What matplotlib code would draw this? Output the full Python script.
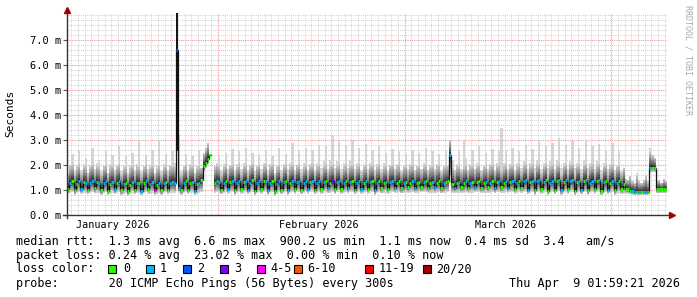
import numpy as np
import matplotlib
matplotlib.use('Agg')
import matplotlib.pyplot as plt
from matplotlib.patches import Rectangle
from matplotlib.transforms import blended_transform_factory

nan = np.nan

# 3 samples per day, 90 days, Jan 9 -> Apr 9 2026 (values in ms)
median_ms = [
    1.05, 1.30, 1.36, 1.00, 1.26, 1.38, 1.05, 1.32, 1.30, 1.02, 1.28, 1.36, 1.08, 1.33, 1.28,
    1.00, 1.30, 1.35, 0.98, 1.26, 1.32, 1.04, 1.30, 1.38, 1.00, 1.25, 1.30, 0.95, 1.22, 1.32,
    1.02, 1.30, 1.28, 0.98, 1.28, 1.35, 1.05, 1.25, 1.32, 1.00, 1.22, 1.30, 1.00, 1.28, 1.34,
    1.02, 1.30, 1.32, 1.28, 6.60, 1.10, 1.00, 1.28, 1.35, 1.02, 1.30, 1.33, 0.98, 1.25, 1.30,
    1.40, 1.95, 2.10, 2.25, 2.42, nan, 1.28, 1.36, 1.32, 1.02, 1.30, 1.38, 1.05, 1.32, 1.36,
    1.00, 1.28, 1.38, 1.06, 1.33, 1.35, 1.02, 1.30, 1.40, 0.98, 1.28, 1.36, 1.05, 1.35, 1.38,
    1.00, 1.30, 1.36, 0.95, 1.26, 1.35, 1.02, 1.32, 1.38, 1.00, 1.30, 1.36, 1.05, 1.34, 1.38,
    1.02, 1.30, 1.36, 1.06, 1.33, 1.38, 1.02, 1.30, 1.35, 1.05, 1.32, 1.38, 1.08, 1.30, 1.36,
    1.04, 1.33, 1.38, 1.05, 1.30, 1.35, 1.08, 1.33, 1.36, 1.02, 1.30, 1.38, 1.06, 1.28, 1.35,
    1.05, 1.32, 1.36, 1.00, 1.28, 1.35, 1.08, 1.30, 1.33, 1.05, 1.32, 1.36, 1.10, 1.30, 1.35,
    1.08, 1.28, 1.33, 1.12, 1.30, 1.35, 1.10, 1.28, 1.32, 1.14, 1.32, 1.35, 1.10, 1.28, 1.33,
    1.12, 1.30, 1.35, 1.08, 1.28, 1.32, 1.35, 2.40, 1.25, 1.10, 1.30, 1.33, 1.12, 1.28, 1.35,
    1.10, 1.30, 1.32, 1.14, 1.32, 1.35, 1.10, 1.28, 1.33, 1.12, 1.30, 1.36, 1.08, 1.32, 1.35,
    1.12, 1.30, 1.38, 1.10, 1.33, 1.36, 1.05, 1.30, 1.38, 1.10, 1.35, 1.40, 1.02, 1.32, 1.38,
    1.00, 1.35, 1.40, 1.05, 1.33, 1.40, 0.98, 1.30, 1.38, 1.02, 1.35, 1.42, 1.00, 1.32, 1.40,
    1.04, 1.36, 1.40, 0.98, 1.33, 1.38, 1.02, 1.35, 1.40, 1.00, 1.30, 1.38, 1.05, 1.35, 1.40,
    0.98, 1.32, 1.36, 1.02, 1.30, 1.38, 1.00, 1.28, 1.35, 1.04, 1.25, 1.05, 1.05, 0.98, 0.95,
    0.93, 0.93, 0.92, 0.92, 0.93, 0.92, 0.92, 1.88, 1.90, 1.88, 1.05, 1.05, 1.04, 1.05, 1.05,
]

# max ping per sample
smoke_hi = [
    1.70, 2.00, 2.45, 1.75, 1.95, 2.60, 1.80, 2.05, 2.30, 1.70, 2.00, 2.70, 1.85, 2.10, 2.20,
    1.75, 1.95, 2.55, 1.70, 2.05, 2.40, 1.80, 2.00, 2.75, 1.75, 1.95, 2.35, 1.70, 2.00, 2.50,
    1.80, 2.05, 2.95, 1.75, 1.95, 2.40, 1.85, 2.00, 2.60, 1.70, 1.95, 3.00, 1.75, 2.05, 2.45,
    1.80, 2.00, 2.55, 2.10, 8.20, 3.20, 1.75, 2.00, 2.45, 1.80, 2.05, 2.35, 1.70, 1.95, 2.60,
    1.90, 2.50, 2.70, 2.90, 3.10, nan, 1.95, 2.10, 2.40, 1.80, 2.05, 2.50, 1.85, 2.00, 2.65,
    1.75, 2.05, 2.55, 1.85, 2.10, 2.70, 1.80, 2.00, 2.50, 1.75, 1.95, 2.40, 1.85, 2.10, 2.60,
    1.80, 2.05, 2.35, 1.70, 2.00, 2.70, 1.80, 2.05, 2.45, 1.85, 2.10, 2.90, 1.80, 2.00, 2.55,
    1.85, 2.10, 2.70, 1.80, 2.05, 2.60, 1.75, 2.10, 2.80, 1.90, 2.15, 2.75, 1.85, 2.20, 3.20,
    1.90, 2.15, 2.95, 1.85, 2.10, 2.80, 1.90, 2.20, 3.00, 1.85, 2.10, 2.70, 1.80, 2.05, 2.85,
    1.85, 2.10, 2.60, 1.80, 2.05, 2.75, 1.85, 2.10, 2.50, 1.80, 2.00, 2.65, 1.85, 2.05, 2.55,
    1.80, 2.00, 2.45, 1.85, 2.05, 2.60, 1.80, 2.00, 2.50, 1.85, 2.10, 2.70, 1.80, 2.00, 2.55,
    1.85, 2.05, 2.45, 1.80, 2.00, 2.60, 1.95, 3.00, 2.20, 1.80, 2.05, 2.55, 1.85, 3.00, 2.30,
    1.80, 2.05, 2.60, 1.85, 2.10, 2.75, 1.80, 2.00, 2.50, 1.85, 2.05, 2.65, 1.80, 2.10, 2.55,
    3.50, 2.10, 2.60, 1.85, 2.05, 2.70, 1.80, 2.10, 2.55, 1.90, 2.15, 2.80, 1.85, 2.10, 2.65,
    1.90, 2.20, 3.00, 1.85, 2.10, 2.75, 1.90, 2.15, 2.90, 1.85, 2.20, 3.10, 1.90, 2.10, 2.80,
    1.85, 2.15, 2.95, 1.90, 2.10, 2.70, 1.85, 2.20, 3.00, 1.90, 2.10, 2.75, 1.85, 2.15, 2.85,
    1.80, 2.10, 2.60, 1.85, 2.05, 2.90, 1.80, 2.00, 2.55, 1.75, 1.90, 1.45, 1.40, 1.55, 1.35,
    1.30, 1.70, 1.35, 1.30, 1.40, 1.60, 1.35, 2.70, 2.40, 2.30, 1.35, 1.40, 1.30, 1.45, 1.35,
]

# min ping per sample
smoke_lo = [
    0.85, 0.90, 0.92, 0.82, 0.88, 0.92, 0.86, 0.90, 0.90, 0.84, 0.88, 0.92, 0.88, 0.90, 0.88,
    0.82, 0.88, 0.92, 0.80, 0.86, 0.90, 0.85, 0.90, 0.92, 0.82, 0.86, 0.90, 0.78, 0.84, 0.90,
    0.84, 0.90, 0.88, 0.80, 0.88, 0.92, 0.86, 0.86, 0.90, 0.82, 0.84, 0.90, 0.82, 0.88, 0.92,
    0.84, 0.90, 0.90, 0.88, 2.55, 0.90, 0.82, 0.88, 0.92, 0.84, 0.90, 0.90, 0.80, 0.86, 0.90,
    0.92, 1.75, 1.90, 2.05, 2.20, nan, 0.88, 0.92, 0.90, 0.84, 0.90, 0.92, 0.86, 0.90, 0.92,
    0.82, 0.88, 0.92, 0.86, 0.90, 0.92, 0.84, 0.90, 0.94, 0.80, 0.88, 0.92, 0.86, 0.92, 0.94,
    0.82, 0.90, 0.92, 0.78, 0.86, 0.92, 0.84, 0.90, 0.94, 0.82, 0.90, 0.92, 0.86, 0.92, 0.94,
    0.84, 0.90, 0.92, 0.86, 0.92, 0.94, 0.84, 0.90, 0.92, 0.86, 0.90, 0.94, 0.88, 0.90, 0.92,
    0.86, 0.92, 0.94, 0.86, 0.90, 0.92, 0.88, 0.92, 0.92, 0.84, 0.90, 0.94, 0.86, 0.88, 0.92,
    0.86, 0.90, 0.92, 0.82, 0.88, 0.92, 0.88, 0.90, 0.90, 0.86, 0.90, 0.92, 0.90, 0.90, 0.92,
    0.88, 0.88, 0.90, 0.90, 0.90, 0.92, 0.90, 0.88, 0.90, 0.92, 0.92, 0.92, 0.90, 0.88, 0.90,
    0.90, 0.90, 0.92, 0.88, 0.88, 0.90, 0.92, 1.55, 0.90, 0.90, 0.90, 0.90, 0.90, 0.88, 0.92,
    0.90, 0.90, 0.90, 0.92, 0.92, 0.92, 0.90, 0.88, 0.90, 0.90, 0.90, 0.92, 0.88, 0.92, 0.92,
    0.90, 0.90, 0.94, 0.90, 0.92, 0.92, 0.86, 0.90, 0.94, 0.90, 0.92, 0.94, 0.84, 0.90, 0.92,
    0.82, 0.92, 0.94, 0.86, 0.90, 0.94, 0.80, 0.88, 0.92, 0.84, 0.92, 0.96, 0.82, 0.90, 0.94,
    0.86, 0.92, 0.94, 0.80, 0.90, 0.92, 0.84, 0.92, 0.94, 0.82, 0.88, 0.92, 0.86, 0.92, 0.94,
    0.80, 0.90, 0.92, 0.84, 0.88, 0.92, 0.82, 0.86, 0.90, 0.86, 0.86, 0.86, 0.86, 0.84, 0.82,
    0.80, 0.82, 0.80, 0.80, 0.82, 0.80, 0.80, 1.70, 1.72, 1.72, 0.88, 0.88, 0.88, 0.88, 0.88,
]

# lost pings per sample (4 = "4-5" bucket)
loss = [
    0, 1, 0, 0, 0, 1, 1, 0, 1, 0, 1, 1, 0, 0, 1,
    0, 1, 1, 0, 0, 1, 1, 0, 1, 0, 1, 0, 0, 0, 1,
    0, 1, 0, 1, 0, 1, 0, 1, 1, 4, 0, 1, 0, 1, 0,
    0, 1, 1, 1, 2, 1, 0, 1, 0, 0, 0, 1, 1, 0, 1,
    0, 0, 0, 0, 0, 0, 0, 1, 1, 0, 1, 0, 1, 0, 1,
    0, 1, 1, 0, 0, 1, 1, 1, 0, 0, 1, 1, 0, 0, 1,
    1, 1, 0, 0, 1, 1, 0, 1, 0, 1, 0, 1, 0, 1, 1,
    0, 1, 1, 1, 0, 1, 0, 1, 1, 0, 1, 0, 1, 0, 3,
    0, 1, 1, 0, 1, 0, 1, 1, 0, 0, 1, 1, 1, 0, 1,
    0, 1, 0, 1, 1, 0, 0, 0, 1, 0, 1, 1, 1, 0, 0,
    0, 1, 0, 0, 0, 1, 1, 0, 0, 0, 1, 0, 0, 0, 1,
    1, 0, 0, 0, 1, 0, 0, 1, 0, 1, 0, 1, 0, 0, 1,
    0, 1, 0, 1, 0, 0, 0, 0, 1, 0, 1, 0, 1, 0, 1,
    0, 0, 1, 1, 0, 1, 0, 1, 0, 0, 1, 1, 1, 0, 1,
    0, 1, 1, 0, 1, 0, 0, 1, 1, 0, 0, 1, 1, 0, 1,
    0, 1, 1, 0, 0, 1, 1, 0, 1, 0, 1, 1, 0, 0, 1,
    0, 1, 0, 1, 0, 1, 0, 1, 0, 0, 0, 0, 0, 0, 1,
    1, 0, 1, 0, 1, 1, 0, 1, 0, 0, 0, 0, 0, 0, 0,
]

month_days = [22.65, 50.65, 81.65]          # Feb 1, Mar 1, Apr 1
month_labels = ['January 2026', 'February 2026', 'March 2026']
month_label_pos = [6.8, 37.8, 65.85]

loss_colors = {0: '#26ff00', 1: '#00b8ff', 2: '#0059ff', 3: '#7e00ff', 4: '#ff00ff'}
legend_names = ['0', '1', '2', '3', '4-5', '6-10', '11-19', '20/20']
legend_colors = ['#26ff00', '#00b8ff', '#0059ff', '#7e00ff', '#ff00ff',
                 '#ff5500', '#ff0000', '#a10000']

MONO = 'DejaVu Sans Mono'
W, H = 697, 297

med = np.array(median_ms)
hi = np.array(smoke_hi)
lo = np.array(smoke_lo)
ls = np.array(loss)
n = len(med)
edges = np.arange(n + 1) / 3.0


def ext(a):
    return np.append(a, a[-1])


fig = plt.figure(figsize=(W / 100, H / 100), dpi=100)
ax = fig.add_axes([67 / W, 1 - 215 / H, 600 / W, 202 / H])
ax.set_xlim(0, 90)
ax.set_ylim(0, 8.08)
for s in ax.spines.values():
    s.set_visible(False)

# grid
ax.set_yticks(np.arange(0, 8, 1))
ax.set_yticklabels(['%.1f m' % v for v in np.arange(0, 8, 1)])
ax.set_yticks(np.arange(0, 8.05, 0.2), minor=True)
ax.set_xticks(month_days)
ax.set_xticklabels([])
ax.set_xticks(np.arange(0.65, 90, 1.0), minor=True)
ax.grid(which='minor', color='#d2d2d2', ls=(0, (1, 1)), lw=0.7)
ax.grid(which='major', color='#f29a9a', ls=(0, (1, 1)), lw=0.8)
ax.tick_params(axis='y', which='major', length=3, width=0.8, color='#555555',
               labelsize=7.5, pad=1.5)
ax.tick_params(axis='y', which='minor', length=0)
ax.tick_params(axis='x', which='both', length=0)
for t in ax.get_yticklabels():
    t.set_family(MONO)

# smoke
up_frac = [1.0, 0.85, 0.72, 0.6, 0.49, 0.38, 0.28, 0.18, 0.09]
lo_frac = [1.0, 0.9, 0.78, 0.66, 0.55, 0.44, 0.33, 0.23, 0.14, 0.06]
grays = np.linspace(0.83, 0.17, 10)
spread = np.minimum(hi - med, 0.65)
for k in range(10):
    top = hi if k == 0 else med + spread * up_frac[k - 1]
    bot = med - (med - lo) * lo_frac[k]
    ax.fill_between(edges, ext(bot), ext(top), step='post',
                    color=str(grays[k]), lw=0, zorder=2)
heavy = ls == 2
ax.bar(edges[:-1][heavy], (hi - lo)[heavy], bottom=lo[heavy], width=1 / 3,
       align='edge', color='#151515', lw=0, zorder=2)

# median
ax.step(edges, ext(med), where='post', color='#111111', lw=0.9, zorder=3)
ax.hlines(med, edges[:-1], edges[1:], colors=[loss_colors[v] for v in ls],
          lw=2.1, zorder=4)

# axes with arrows
ax.plot([0, 0], [-0.015, 1.0], transform=ax.transAxes, color='#333333',
        lw=1, clip_on=False, zorder=5)
ax.plot([-0.006, 1.005], [0, 0], transform=ax.transAxes, color='#333333',
        lw=1, clip_on=False, zorder=5)
ax.plot(0, 1.013, marker='^', ms=4, color='#a00000', transform=ax.transAxes,
        clip_on=False, zorder=6)
ax.plot(1.008, 0, marker='>', ms=4, color='#a00000', transform=ax.transAxes,
        clip_on=False, zorder=6)

tr = blended_transform_factory(ax.transData, ax.transAxes)
for pos, lab in zip(month_label_pos, month_labels):
    ax.text(pos, -0.05, lab, transform=tr, ha='center', va='center',
            family=MONO, fontsize=7.3)

fig.text(10 / W, 1 - 113 / H, 'Seconds', rotation=90, ha='center',
         va='center', family=MONO, fontsize=8)
fig.text(688 / W, 1 - 60 / H, 'RRDTOOL / TOBI OETIKER', rotation=270,
         ha='center', va='center', family=MONO, fontsize=6, color='#a8a8a8')

# legend text
fs = 8.5
fig.text(16 / W, 1 - 241 / H,
         'median rtt:  1.3 ms avg  6.6 ms max  900.2 us min  1.1 ms now  0.4 ms sd  3.4   am/s',
         family=MONO, fontsize=fs, va='center')
fig.text(16 / W, 1 - 255 / H,
         'packet loss: 0.24 % avg  23.02 % max  0.00 % min  0.10 % now',
         family=MONO, fontsize=fs, va='center')
fig.text(16 / W, 1 - 269 / H, 'loss color:', family=MONO, fontsize=fs, va='center')
fig.text(16 / W, 1 - 283 / H, 'probe:       20 ICMP Echo Pings (56 Bytes) every 300s',
         family=MONO, fontsize=fs, va='center')
fig.text(680 / W, 1 - 283 / H, 'Thu Apr  9 01:59:21 2026', family=MONO,
         fontsize=fs, va='center', ha='right')

box_x = [108.3, 145.7, 182.7, 220, 257.3, 294, 365, 423.3]
text_x = [123.3, 160, 197, 234, 270.7, 307, 379, 436]
for bx, tx, col, name in zip(box_x, text_x, legend_colors, legend_names):
    fig.patches.append(Rectangle((bx / W, 1 - 273 / H), 8 / W, 8 / H,
                                 transform=fig.transFigure, facecolor=col,
                                 edgecolor='black', lw=0.8))
    fig.text(tx / W, 1 - 269 / H, name, family=MONO, fontsize=fs, va='center')

fig.savefig('out.png', dpi=100)
